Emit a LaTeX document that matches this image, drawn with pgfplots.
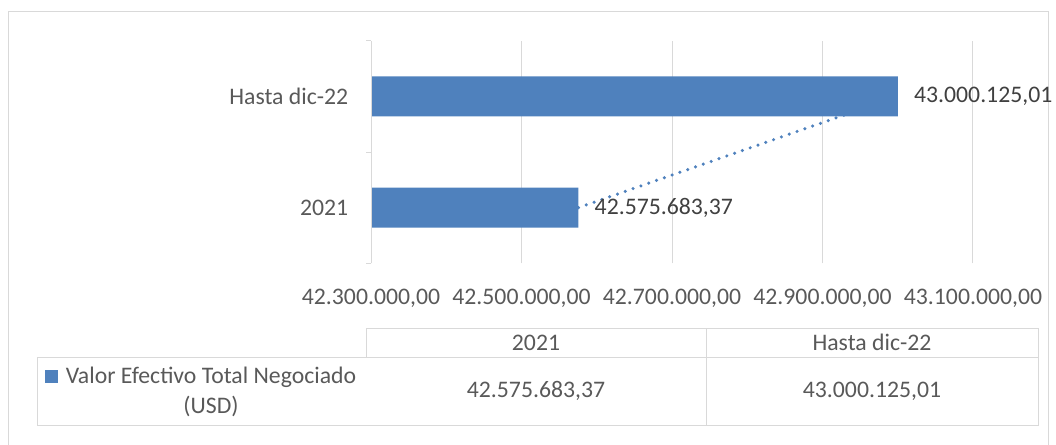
\documentclass[border=0pt]{standalone}
\usepackage{pgfplots}
\pgfplotsset{compat=1.18}
\usepackage{fontspec}
\setmainfont{Carlito}
\definecolor{barblue}{HTML}{4F81BD}
\definecolor{gridgray}{HTML}{D9D9D9}
\definecolor{txt}{HTML}{595959}
\definecolor{lbl}{HTML}{404040}
\newcommand\cf{\fontsize{17.8pt}{21.4pt}\selectfont}

\begin{document}
\begin{tikzpicture}
\begin{scope}[x=0.75pt,y=-0.75pt]
\useasboundingbox (0,0) rectangle (1056,445);
\draw[gridgray, line width=0.75pt] (8,446) -- (8,12) -- (1048,12) -- (1048,446);
\end{scope}
\begin{axis}[
  at={(278.25pt,-197.475pt)}, anchor=south west,
  scale only axis, width=451.5pt, height=166.95pt,
  xmin=42300000, xmax=43100000, ymin=-0.5, ymax=1.5,
  scaled x ticks=false,
  axis line style={draw=none},
  tick pos=left,
  xtick={42300000,42500000,42700000,42900000,43100000},
  xticklabels={{42.300.000,00},{42.500.000,00},{42.700.000,00},{42.900.000,00},{43.100.000,00}},
  xmajorgrids, grid style={gridgray, line width=0.75pt},
  xtick style={draw=none},
  ytick={0,1}, yticklabels={2021,Hasta dic-22},
  ytick style={draw=none},
  extra y ticks={-0.5,0.5,1.5}, extra y tick labels={},
  extra y tick style={grid=none, ytick style={draw=gridgray, line width=0.75pt}, major tick length=3.75pt, tick align=outside},
  tick label style={font=\cf, text=txt},
  xticklabel style={anchor=base, yshift=-30.75pt},
  yticklabel style={anchor=east, inner sep=0pt, xshift=-16.9pt},
]
\addplot[barblue, line width=2.6pt, line cap=round, dash pattern=on 0pt off 6.2pt] coordinates {(42575683.37,0) (43000125.01,1)};
\addplot[xbar, bar width=30pt, bar shift=0pt, fill=barblue, draw=none,
  point meta=explicit symbolic, nodes near coords,
  every node near coord/.append style={anchor=west, inner sep=0pt, xshift=12pt, font=\cf, text=lbl}]
  coordinates {(42575683.37,0) [42.575.683,37] (43000125.01,1) [43.000.125,01]};
\draw[gridgray, line width=0.75pt] (axis cs:42300000,-0.5) -- (axis cs:42300000,1.5);
\end{axis}
\begin{scope}[x=0.75pt,y=-0.75pt]
\draw[gridgray, line width=0.75pt] (366,328) rectangle (1038,357.5);
\draw[gridgray, line width=0.75pt] (37,357.5) rectangle (1038,425);
\draw[gridgray, line width=0.75pt] (706,328) -- (706,425);
\tikzset{tt/.style={font=\cf, text=txt, anchor=base, inner sep=0pt}}
\node[tt] at (536,350) {2021};
\node[tt] at (872,350) {Hasta dic-22};
\node[tt] at (536,397) {42.575.683,37};
\node[tt] at (872,397) {43.000.125,01};
\fill[barblue] (45,370) rectangle (58,383);
\node[tt] at (211,383) {Valor Efectivo Total Negociado};
\node[tt] at (211,413) {(USD)};
\end{scope}
\end{tikzpicture}
\end{document}
